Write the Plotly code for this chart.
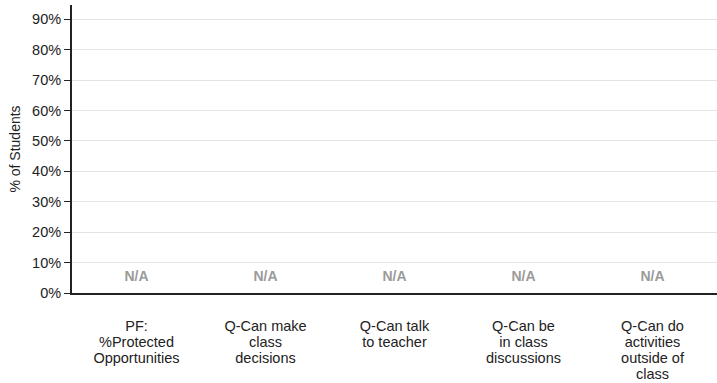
import plotly.graph_objects as go

category_lines = [
    ["PF:", "%Protected", "Opportunities"],
    ["Q-Can make", "class", "decisions"],
    ["Q-Can talk", "to teacher"],
    ["Q-Can be", "in class", "discussions"],
    ["Q-Can do", "activities", "outside of", "class"],
]
values = [None, None, None, None, None]
value_labels = ["N/A", "N/A", "N/A", "N/A", "N/A"]
y_ticks = [0, 0.1, 0.2, 0.3, 0.4, 0.5, 0.6, 0.7, 0.8, 0.9]
y_ticktext = ["0%", "10%", "20%", "30%", "40%", "50%", "60%", "70%", "80%", "90%"]

FONT = "Liberation Sans, Arial, sans-serif"
LABEL_SIZE = 14.5

categories = ["<br>".join(lines) for lines in category_lines]
tick_text = ["<br>".join(f"<span style='font-size:{LABEL_SIZE}px'>{l}</span>" for l in lines)
             for lines in category_lines]

fig = go.Figure()
fig.add_trace(go.Bar(x=categories, y=values, marker_color="#4a7ebb", showlegend=False))
fig.add_trace(go.Scatter(
    x=categories, y=[0.052] * len(categories), mode="text", text=value_labels,
    textfont=dict(family=FONT, size=14, color="#9a9a9a"),
    texttemplate="<b>%{text}</b>", showlegend=False, hoverinfo="skip",
))

fig.update_layout(
    width=717, height=383,
    margin=dict(l=72, r=0, t=5, b=90),
    paper_bgcolor="white", plot_bgcolor="white",
    font=dict(family=FONT, size=12, color="#222222"),
)
fig.update_xaxes(
    tickvals=categories, ticktext=tick_text,
    showline=True, linecolor="#222222", linewidth=2,
    ticks="outside", ticklen=21, tickcolor="rgba(0,0,0,0)",
    tickfont=dict(size=12.3, color="#222222"), showgrid=False,
    range=[-0.5, 4.5], automargin=False,
)
fig.update_yaxes(
    range=[0, 0.947], tickvals=y_ticks, ticktext=y_ticktext,
    showline=True, linecolor="#222222", linewidth=2,
    ticks="outside", ticklen=6, tickcolor="#222222",
    showgrid=True, gridcolor="#e3e3e3", gridwidth=1,
    tickfont=dict(size=14.5, color="#222222"),
    title=dict(text="% of Students", font=dict(size=14, color="#222222"), standoff=8),
    zeroline=False, automargin=False,
)
fig.write_html("out.html", config={"displayModeBar": False},
               post_script="document.body.style.margin='0';")
